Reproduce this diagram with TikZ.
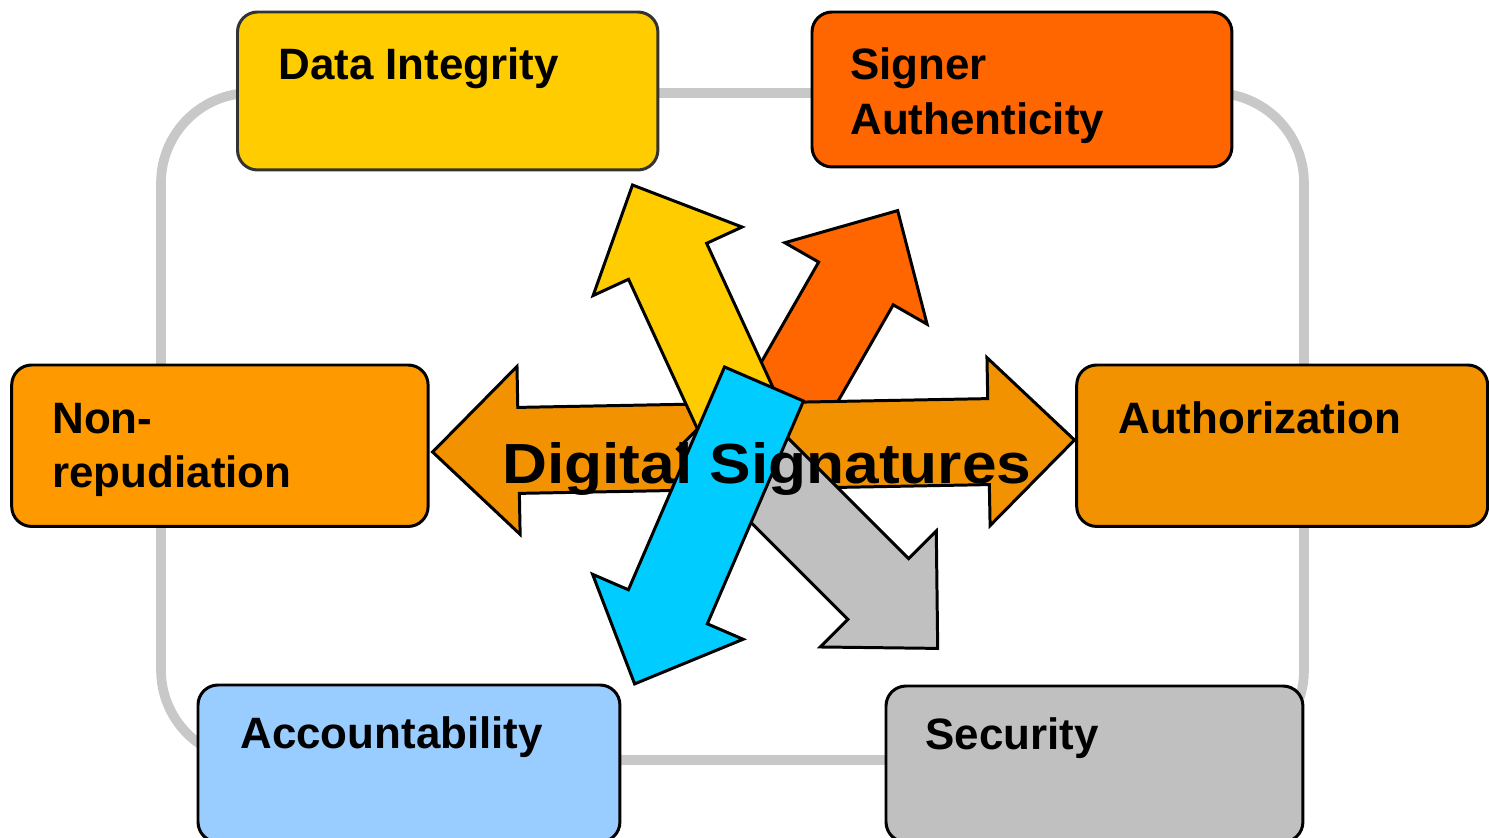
\documentclass[tikz,border=0pt]{standalone}
\usepackage{fontspec}
\setmainfont{Liberation Sans}
\newfontfamily\titlefam{Liberation Sans}[FakeStretch=1.1]
\usetikzlibrary{calc}
\definecolor{integc}{HTML}{FFCC00}
\definecolor{signc}{HTML}{FF6600}
\definecolor{nonrepc}{HTML}{FF9900}
\definecolor{authc}{HTML}{F39200}
\definecolor{acctc}{HTML}{99CCFF}
\definecolor{secc}{HTML}{C0C0C0}
\definecolor{cyanc}{HTML}{00CCFF}
\definecolor{framec}{HTML}{C8C8C8}
\definecolor{edgec}{HTML}{333333}
\newcommand{\boxfont}{\fontsize{25}{31.2}\selectfont\bfseries}
\newcommand{\blockarrow}[3]{%
  \coordinate (#2h) at ($(#2)!1.68cm!(#1)$);
  \draw[blk, fill=#3] ($(#1)!0.86cm!90:(#2)$) -- ($(#2h)!0.86cm!90:(#2)$) -- ($(#2h)!1.64cm!90:(#2)$) -- (#2)
    -- ($(#2h)!1.64cm!-90:(#2)$) -- ($(#2h)!0.86cm!-90:(#2)$) -- ($(#1)!0.86cm!-90:(#2)$) -- cycle;}
\begin{document}
\begin{tikzpicture}[x=0.02cm, y=-0.02cm,
  box/.style={draw=black, line width=1.7pt, rounded corners=0.4cm, inner sep=0pt, outer sep=0pt, anchor=north west},
  lbl/.style={font=\boxfont, anchor=base west, inner sep=0pt},
  blk/.style={draw=black, line width=1.7pt},
  frame/.style={draw=framec, line width=5.5pt, rounded corners=1.8cm}]
\useasboundingbox (0,0) rectangle (1489,838);
\clip (0,0) rectangle (1489,838);
\draw[frame] (161,93) rectangle (1304,760);
\node[box, fill=integc, draw=edgec, minimum width=8.41cm, minimum height=3.16cm] (integ) at (237.5,12) {};
\node[box, fill=signc, minimum width=8.40cm, minimum height=3.10cm] (signer) at (812,12) {};
\node[box, fill=nonrepc, minimum width=8.33cm, minimum height=3.23cm] (nonrep) at (11.7,365) {};
\node[box, fill=authc, minimum width=8.22cm, minimum height=3.23cm] (auth) at (1076.7,365) {};
\node[box, fill=acctc, minimum width=8.44cm, minimum height=3.14cm] (acct) at (198,685) {};
\node[box, fill=secc, minimum width=8.34cm, minimum height=3.12cm] (sec) at (886,686) {};
\node[lbl] (integt) at (278,80) {Data Integrity};
\node[lbl] (signert) at (850,80) {\begin{tabular}[t]{@{}l@{}}Signer\\Authenticity\end{tabular}};
\node[lbl] (nonrept) at (52,433) {\begin{tabular}[t]{@{}l@{}}Non-\\repudiation\end{tabular}};
\node[lbl] (autht) at (1118,433) {Authorization};
\node[lbl] (acctt) at (240,748) {Accountability};
\node[lbl] (sect) at (925,749) {Security};
\coordinate (hl) at (432.6,452);
\coordinate (hr) at (1074.5,440);
\coordinate (ya) at (745.4,430.4);
\coordinate (yb) at (632.5,185);
\coordinate (oa) at (763.4,445);
\coordinate (ob) at (897.7,210.6);
\coordinate (ga) at (707.9,418.6);
\coordinate (gb) at (937.7,648.4);
\coordinate (ca) at (764,384);
\coordinate (cb) at (634.6,683.9);
\blockarrow{oa}{ob}{signc}
\coordinate (hlb) at ($(hl)!1.72cm!(hr)$);
\coordinate (hrb) at ($(hr)!1.72cm!(hl)$);
\draw[blk, fill=authc] (hl) -- ($(hlb)!1.68cm!90:(hr)$) -- ($(hlb)!0.86cm!90:(hr)$) -- ($(hrb)!0.86cm!-90:(hl)$)
  -- ($(hrb)!1.68cm!-90:(hl)$) -- (hr) -- ($(hrb)!1.68cm!90:(hl)$) -- ($(hrb)!0.86cm!90:(hl)$)
  -- ($(hlb)!0.86cm!-90:(hr)$) -- ($(hlb)!1.68cm!-90:(hr)$) -- cycle;
\blockarrow{ya}{yb}{integc}
\blockarrow{ga}{gb}{secc}
\blockarrow{ca}{cb}{cyanc}
\node[font=\titlefam\bfseries\fontsize{32.2}{36}\selectfont, anchor=base west, inner sep=0pt] (title) at (502,483) {Digital Signatures};
\end{tikzpicture}
\end{document}
